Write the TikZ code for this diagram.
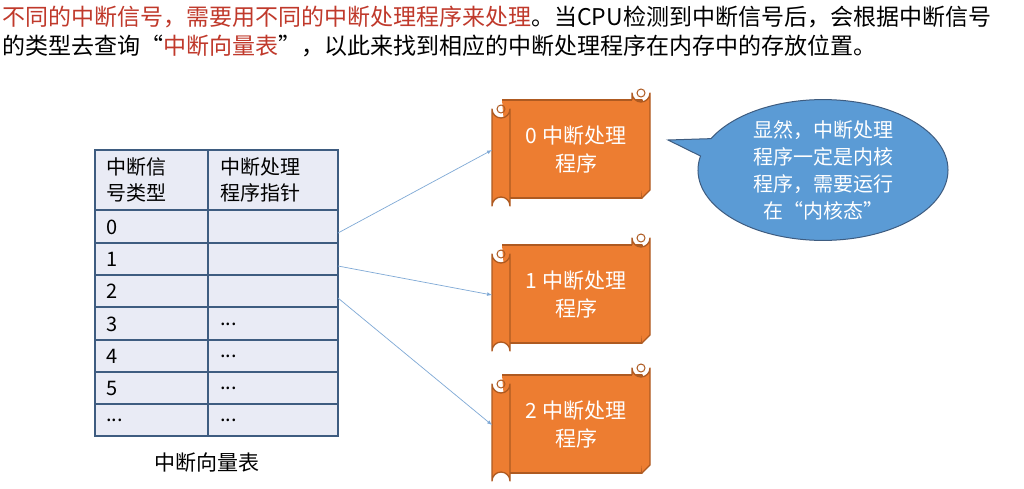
\documentclass[tikz,border=0pt]{standalone}
\usepackage{fontspec}
\setmainfont{Noto Sans CJK SC}
\usetikzlibrary{shapes.callouts}
\definecolor{titlered}{HTML}{C0392B}
\definecolor{scrollfill}{HTML}{ED7D31}
\definecolor{scrollline}{HTML}{AE5A21}
\definecolor{tablefill}{HTML}{E9EBF5}
\definecolor{tableline}{HTML}{3E5C80}
\definecolor{calloutfill}{HTML}{5B9BD5}
\definecolor{arrowblue}{HTML}{7FA9D6}
\tikzset{
    scrollbody/.style={fill=scrollfill,draw=scrollline,line width=1.3pt,line join=round},
    cell/.style={anchor=west,font=\fontsize{20}{24}\selectfont,inner sep=0pt},
    link/.style={->,>=latex,color=arrowblue,line width=0.7pt}
}
\newcommand\ScrollBox[4]{%
    % body, top right curl, left roll
    \draw[scrollbody] (#1-70,#2-50) -- (#1+70,#2-50) -- (#1+70,#2+48) -- (#1-62,#2+48);
    \draw[scrollbody] (#1+60,#2-50) -- (#1+60,#2-57) arc[start angle=180,end angle=0,radius=9] -- (#1+78,#2+40) -- (#1+70,#2+48);
    \draw[scrollbody] (#1-80,#2-41) arc[start angle=180,end angle=0,radius=9] -- (#1-62,#2+56) arc[start angle=0,end angle=-180,radius=9] -- cycle;
    \draw[scrollline,line width=1pt] (#1-71,#2-41) circle[radius=4];
    \draw[scrollline,line width=1pt] (#1+69,#2-57) circle[radius=4];
    \node[text=white,align=center,font=\fontsize{21}{28}\selectfont] (#3) at (#1+4,#2) {#4};
    \coordinate (#3-in) at (#1-80,#2);
}
\begin{document}
\begin{tikzpicture}[x=1pt,y=-1pt]
    \useasboundingbox[fill=white] (0,0) rectangle (1024,488);
    % title
    \node[anchor=west,font=\fontsize{23}{28}\selectfont,inner sep=0pt] (line1) at (2,17)
        {\textcolor{titlered}{不同的中断信号，需要用不同的中断处理程序来处理}。当CPU检测到中断信号后，会根据中断信号};
    \node[anchor=west,font=\fontsize{23}{28}\selectfont,inner sep=0pt] (line2) at (2,46)
        {的类型去查询“\textcolor{titlered}{中断向量表}”，以此来找到相应的中断处理程序在内存中的存放位置。};
    % table
    \fill[tablefill] (95,150) rectangle (338,436);
    \draw[tableline,line width=1.2pt] (95,150) rectangle (338,436);
    \draw[tableline,line width=1.2pt] (208,150) -- (208,436);
    \foreach \y in {210,243,275,307,340,372,404}
        \draw[tableline,line width=1.2pt] (95,\y) -- (338,\y);
    \node[cell,align=left,font=\fontsize{20}{26}\selectfont] (head1) at (106,180) {中断信\\号类型};
    \node[cell,align=left,font=\fontsize{20}{26}\selectfont] (head2) at (220,180) {中断处理\\程序指针};
    \foreach \t/\y [count=\i] in {0/227,1/259,2/291,3/324,4/356,5/388}
        \node[cell] (type\i) at (106,\y) {\t};
    \node[cell] (type7) at (106,420) {...};
    \node[cell] (ptr4) at (220,324) {...};
    \node[cell] (ptr5) at (220,356) {...};
    \node[cell] (ptr6) at (220,388) {...};
    \node[cell] (ptr7) at (220,420) {...};
    \node[font=\fontsize{21}{24}\selectfont] (caption) at (207,463) {中断向量表};
    \coordinate (row0) at (338,233);
    \coordinate (row1) at (338,266);
    \coordinate (row2) at (338,298);
    % handlers
    \ScrollBox{572}{150}{handler0}{0 中断处理\\程序}
    \ScrollBox{572}{295}{handler1}{1 中断处理\\程序}
    \ScrollBox{572}{425}{handler2}{2 中断处理\\程序}
    \draw[link] (row0) -- (handler0-in);
    \draw[link] (row1) -- (handler1-in);
    \draw[link] (row2) -- (handler2-in);
    % kernel note
    \node[ellipse callout,fill=calloutfill,draw=tableline,line width=1pt,text=white,
        align=center,font=\fontsize{20}{27}\selectfont,minimum width=250,minimum height=134,
        inner sep=0pt,callout absolute pointer={(668,140)}] (note) at (823,170)
        {显然，中断处理\\程序一定是内核\\程序，需要运行\\在“内核态”};
\end{tikzpicture}
\end{document}
